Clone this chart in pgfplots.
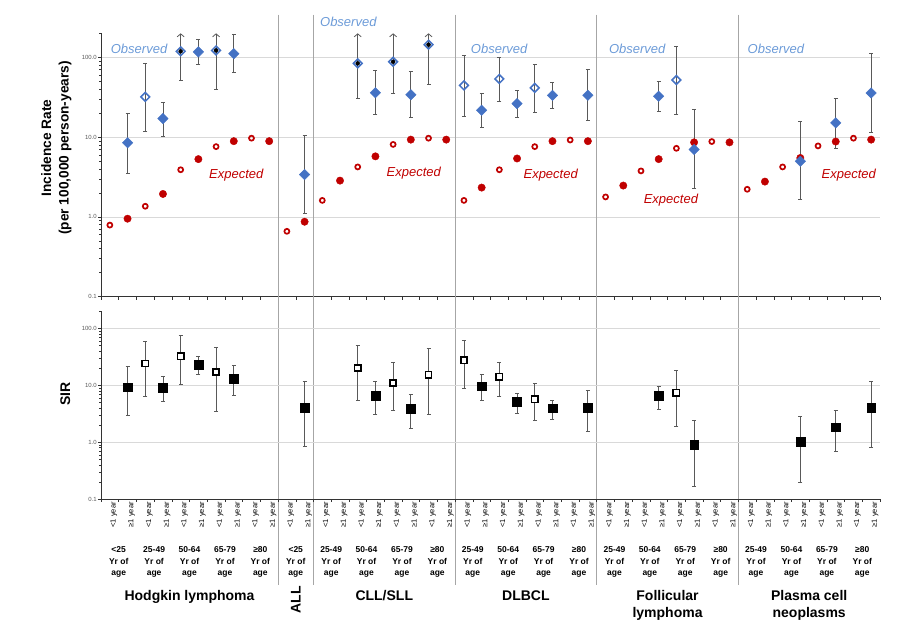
\documentclass[border=0pt]{standalone}
\usepackage{fontspec}
\setmainfont{Liberation Sans}
\usepackage{pgfplots}
\usepackage{pgfplotstable}
\pgfplotsset{compat=1.18}
\usetikzlibrary{arrows.meta}
\definecolor{obsblue}{HTML}{4472C4}
\definecolor{obstext}{HTML}{6C9BD8}
\definecolor{expred}{HTML}{C00000}
\definecolor{gridgray}{HTML}{D9D9D9}
\definecolor{sepgray}{HTML}{A6A6A6}
\definecolor{errgray}{HTML}{595959}
\definecolor{ticktext}{HTML}{595959}

% Expected incidence, <1 year (open circles)
\pgfplotstableread{
x y
0 0.79
2 1.36
4 3.9
6 7.6
8 9.7
10 0.66
12 1.61
14 4.23
16 8.1
18 9.7
20 1.61
22 3.9
24 7.6
26 9.2
28 1.78
30 3.77
32 7.24
34 8.8
36 2.22
38 4.23
40 7.76
42 9.7
}\expopen
% Expected incidence, >=1 year (filled circles)
\pgfplotstableread{
x y
1 0.95
3 1.94
5 5.3
7 8.9
9 8.9
11 0.87
13 2.85
15 5.74
17 9.3
19 9.3
21 2.33
23 5.4
25 8.9
27 8.9
29 2.47
31 5.3
33 8.6
35 8.6
37 2.77
39 5.48
41 8.8
43 9.3
}\expfill
% Observed incidence, <1 year, closed intervals
\pgfplotstableread{
x y lo hi
2 31.9 11.8 85
20 44.5 18.2 107
22 53.6 27.9 101
24 41.4 20.7 82.6
32 52 19.1 136
}\obsopen
% Observed incidence, <1 year, open-ended upper limit
\pgfplotstableread{
x y lo hi
4 119 51 200
6 122 40 200
14 84 31 200
16 88 35.8 200
18 144 46 200
}\obsopenarrow
% Observed incidence, >=1 year
\pgfplotstableread{
x y lo hi
1 8.5 3.56 20.1
3 17.1 10.2 27.6
5 117 82.6 170
7 111 65 196
11 3.39 1.11 10.4
15 36 19.1 68
17 34 17.9 66
21 21.7 13.4 35.8
23 26.3 17.5 39
25 33.4 23 48
27 33.4 16.3 71.6
31 32.5 21.3 50.6
33 7.0 2.28 22.3
39 4.98 1.68 15.8
41 15.1 7.24 31
43 35.8 11.6 113
}\obsfill
% SIR, <1 year
\pgfplotstableread{
x y lo hi
2 24.2 6.5 59.3
4 32.5 10.3 74.6
6 17.1 3.43 47.3
14 20.4 5.5 51.3
16 11.1 3.56 25.9
18 15.4 3.08 44.2
20 27.7 8.75 61.8
22 14.2 6.3 25.9
24 5.7 2.38 10.7
32 7.45 1.92 18
}\siropen
% SIR, >=1 year
\pgfplotstableread{
x y lo hi
1 9.3 2.91 21.2
3 9.1 5.2 14.5
5 23.2 15.7 32.5
7 13.1 6.8 22.6
11 4.07 0.84 11.6
15 6.5 3.08 11.9
17 3.92 1.75 7.05
21 9.7 5.5 15.6
23 5.1 3.24 7.3
25 3.97 2.55 5.47
27 4.07 1.57 8.07
31 6.5 3.81 9.7
33 0.9 0.17 2.45
39 1.01 0.2 2.8
41 1.83 0.70 3.56
43 4.07 0.82 11.6
}\sirfill

\newcommand{\la}{<1 year}
\newcommand{\lb}{≥1 year}

\tikzset{
  grp/.style={font=\bfseries\fontsize{14}{16}\selectfont, inner sep=0pt},
  agef/.style={font=\bfseries\fontsize{8.5}{10}\selectfont, inner sep=0pt},
  annot/.style={font=\itshape\fontsize{13}{15}\selectfont, anchor=base, inner sep=0pt},
}

\newcommand{\agelab}[2]{%
  \node[agef, anchor=base] at ([yshift=-53.7pt]axis cs:#1,0.1) {#2};
  \node[agef, anchor=base] at ([yshift=-65.8pt]axis cs:#1,0.1) {Yr of};
  \node[agef, anchor=base] at ([yshift=-76.5pt]axis cs:#1,0.1) {age};
}

\begin{document}
\begin{tikzpicture}
\useasboundingbox (0,0) rectangle (914pt,625pt);

% ---------------- Top panel: incidence rates ----------------
\begin{axis}[
    at={(101pt,328.3pt)}, anchor=south west,
    scale only axis, width=779pt, height=263.4pt,
    xmin=-0.5, xmax=43.5,
    ymode=log, ymin=0.1, ymax=200,
    axis x line*=bottom, axis y line*=left,
    axis line style={black!80, line width=0.7pt},
    major tick length=3pt, minor tick length=1.8pt, tick align=outside,
    tick style={black!80, line width=0.5pt},
    xtick={-0.5,0.5,...,43.5}, xticklabels={},
    ytick={0.1,1,10,100}, yticklabels={0.1,1.0,10.0,100.0},
    minor ytick={0.2,0.3,0.4,0.5,0.6,0.7,0.8,0.9,2,3,4,5,6,7,8,9,20,30,40,50,60,70,80,90,200},
    yticklabel style={font=\fontsize{6}{7}\selectfont, text=ticktext, inner sep=1pt},
    ymajorgrids, major grid style={gridgray, line width=0.8pt},
    clip=false,
  ]
  \pgfplotsinvokeforeach{9.5,11.5,19.5,27.5,35.5}{
    \draw[sepgray, line width=0.9pt] (axis cs:#1,343) -- (axis cs:#1,2.47e-5);
  }
  \node[rotate=90, align=center, font=\bfseries\fontsize{13.7}{17.5}\selectfont]
    at (axis description cs:-0.0575,0.5646) {Incidence Rate\\(per 100,000 person-years)};

  % expected
  \addplot[only marks, mark=o, mark size=2.5pt, mark options={expred, line width=1.7pt}]
    table[x=x,y=y]{\expopen};
  \addplot[only marks, mark=*, mark size=3.7pt, mark options={expred, fill=expred}]
    table[x=x,y=y]{\expfill};

  % observed: open-ended upper bars
  \addplot[only marks, mark=none, forget plot,
    error bars/.cd, y dir=plus, y explicit, error mark=none,
    error bar style={errgray, line width=0.8pt, -{Straight Barb[length=3pt,width=7pt]}}]
    table[x=x,y=y, y error expr=\thisrow{hi}-\thisrow{y}]{\obsopenarrow};
  \addplot[only marks, mark=square, mark size=3.1pt,
    mark options={obsblue, line width=1.5pt, rotate=45},
    error bars/.cd, y dir=minus, y explicit,
    error bar style={errgray, line width=0.8pt},
    error mark options={errgray, line width=0.8pt, mark size=2pt, rotate=90}]
    table[x=x,y=y, y error expr=\thisrow{y}-\thisrow{lo}]{\obsopenarrow};
  % observed: closed intervals
  \addplot[only marks, mark=square, mark size=3.1pt,
    mark options={obsblue, line width=1.5pt, rotate=45},
    error bars/.cd, y dir=both, y explicit,
    error bar style={errgray, line width=0.8pt},
    error mark options={errgray, line width=0.8pt, mark size=2pt, rotate=90}]
    table[x=x,y=y, y error plus expr=\thisrow{hi}-\thisrow{y},
          y error minus expr=\thisrow{y}-\thisrow{lo}]{\obsopen};
  \addplot[only marks, mark=square*, mark size=3.7pt,
    mark options={obsblue, fill=obsblue, rotate=45},
    error bars/.cd, y dir=both, y explicit,
    error bar style={errgray, line width=0.8pt},
    error mark options={errgray, line width=0.8pt, mark size=2pt, rotate=90}]
    table[x=x,y=y, y error plus expr=\thisrow{hi}-\thisrow{y},
          y error minus expr=\thisrow{y}-\thisrow{lo}]{\obsfill};

  % annotations
  \node[annot, text=obstext] at (axis cs:1.65,112) {Observed};
  \node[annot, text=obstext] at (axis cs:13.47,244) {Observed};
  \node[annot, text=obstext] at (axis cs:21.99,112) {Observed};
  \node[annot, text=obstext] at (axis cs:29.79,112) {Observed};
  \node[annot, text=obstext] at (axis cs:37.62,112) {Observed};
  \node[annot, text=expred] at (axis cs:7.14,3.02) {Expected};
  \node[annot, text=expred] at (axis cs:17.17,3.23) {Expected};
  \node[annot, text=expred] at (axis cs:24.9,2.99) {Expected};
  \node[annot, text=expred] at (axis cs:31.69,1.47) {Expected};
  \node[annot, text=expred] at (axis cs:41.74,2.99) {Expected};
\end{axis}

% ---------------- Bottom panel: SIR ----------------
\begin{axis}[
    at={(101pt,126pt)}, anchor=south west,
    scale only axis, width=779pt, height=187.5pt,
    xmin=-0.5, xmax=43.5,
    ymode=log, ymin=0.1, ymax=200,
    axis x line*=bottom, axis y line*=left,
    axis line style={black!80, line width=0.7pt},
    major tick length=3pt, minor tick length=1.8pt, tick align=outside,
    tick style={black!80, line width=0.5pt},
    ytick={0.1,1,10,100}, yticklabels={0.1,1.0,10.0,100.0},
    minor ytick={0.2,0.3,0.4,0.5,0.6,0.7,0.8,0.9,2,3,4,5,6,7,8,9,20,30,40,50,60,70,80,90,200},
    yticklabel style={font=\fontsize{6}{7}\selectfont, text=ticktext, inner sep=1pt},
    ymajorgrids, major grid style={gridgray, line width=0.8pt},
    clip=false,
    xtick={0,...,43},
    xticklabels={\la,\lb,\la,\lb,\la,\lb,\la,\lb,\la,\lb,\la,\lb,\la,\lb,\la,\lb,\la,\lb,\la,\lb,\la,\lb,\la,\lb,\la,\lb,\la,\lb,\la,\lb,\la,\lb,\la,\lb,\la,\lb,\la,\lb,\la,\lb,\la,\lb,\la,\lb},
    xtick style={draw=none},
    xticklabel style={rotate=90, anchor=east, font=\fontsize{7.5}{8}\selectfont, inner sep=0pt, yshift=-4pt},
  ]
  % category boundary tick marks
  \pgfplotsinvokeforeach{-0.5,0.5,...,43.5}{
    \draw[black!80, line width=0.5pt] (axis cs:#1,0.1) -- ([yshift=-3pt]axis cs:#1,0.1);
  }
  \node[rotate=90, font=\bfseries\fontsize{14}{17}\selectfont]
    at (axis description cs:-0.0458,0.56) {SIR};

  \addplot[only marks, mark=square*, mark size=3.1pt,
    mark options={black, fill=white, line width=1.6pt},
    error bars/.cd, y dir=both, y explicit,
    error bar style={errgray, line width=0.8pt},
    error mark options={errgray, line width=0.8pt, mark size=2pt, rotate=90}]
    table[x=x,y=y, y error plus expr=\thisrow{hi}-\thisrow{y},
          y error minus expr=\thisrow{y}-\thisrow{lo}]{\siropen};
  \addplot[only marks, mark=square*, mark size=4.4pt,
    mark options={black, fill=black},
    error bars/.cd, y dir=both, y explicit,
    error bar style={errgray, line width=0.8pt},
    error mark options={errgray, line width=0.8pt, mark size=2pt, rotate=90}]
    table[x=x,y=y, y error plus expr=\thisrow{hi}-\thisrow{y},
          y error minus expr=\thisrow{y}-\thisrow{lo}]{\sirfill};

  % age-group labels
  \agelab{0.5}{<25}
  \agelab{2.5}{25-49}
  \agelab{4.5}{50-64}
  \agelab{6.5}{65-79}
  \agelab{8.5}{≥80}
  \agelab{10.5}{<25}
  \agelab{12.5}{25-49}
  \agelab{14.5}{50-64}
  \agelab{16.5}{65-79}
  \agelab{18.5}{≥80}
  \agelab{20.5}{25-49}
  \agelab{22.5}{50-64}
  \agelab{24.5}{65-79}
  \agelab{26.5}{≥80}
  \agelab{28.5}{25-49}
  \agelab{30.5}{50-64}
  \agelab{32.5}{65-79}
  \agelab{34.5}{≥80}
  \agelab{36.5}{25-49}
  \agelab{38.5}{50-64}
  \agelab{40.5}{65-79}
  \agelab{42.5}{≥80}

  % group labels
  \node[grp, anchor=base] at ([yshift=-101.7pt]axis cs:4.5,0.1) {Hodgkin lymphoma};
  \node[grp, rotate=90] at ([yshift=-101pt]axis cs:10.5,0.1) {ALL};
  \node[grp, anchor=base] at ([yshift=-101.7pt]axis cs:15.5,0.1) {CLL/SLL};
  \node[grp, anchor=base] at ([yshift=-101.7pt]axis cs:23.5,0.1) {DLBCL};
  \node[grp, anchor=base] at ([yshift=-101.7pt]axis cs:31.5,0.1) {Follicular};
  \node[grp, anchor=base] at ([yshift=-118.7pt]axis cs:31.5,0.1) {lymphoma};
  \node[grp, anchor=base] at ([yshift=-101.7pt]axis cs:39.5,0.1) {Plasma cell};
  \node[grp, anchor=base] at ([yshift=-118.7pt]axis cs:39.5,0.1) {neoplasms};
\end{axis}
\end{tikzpicture}
\end{document}
